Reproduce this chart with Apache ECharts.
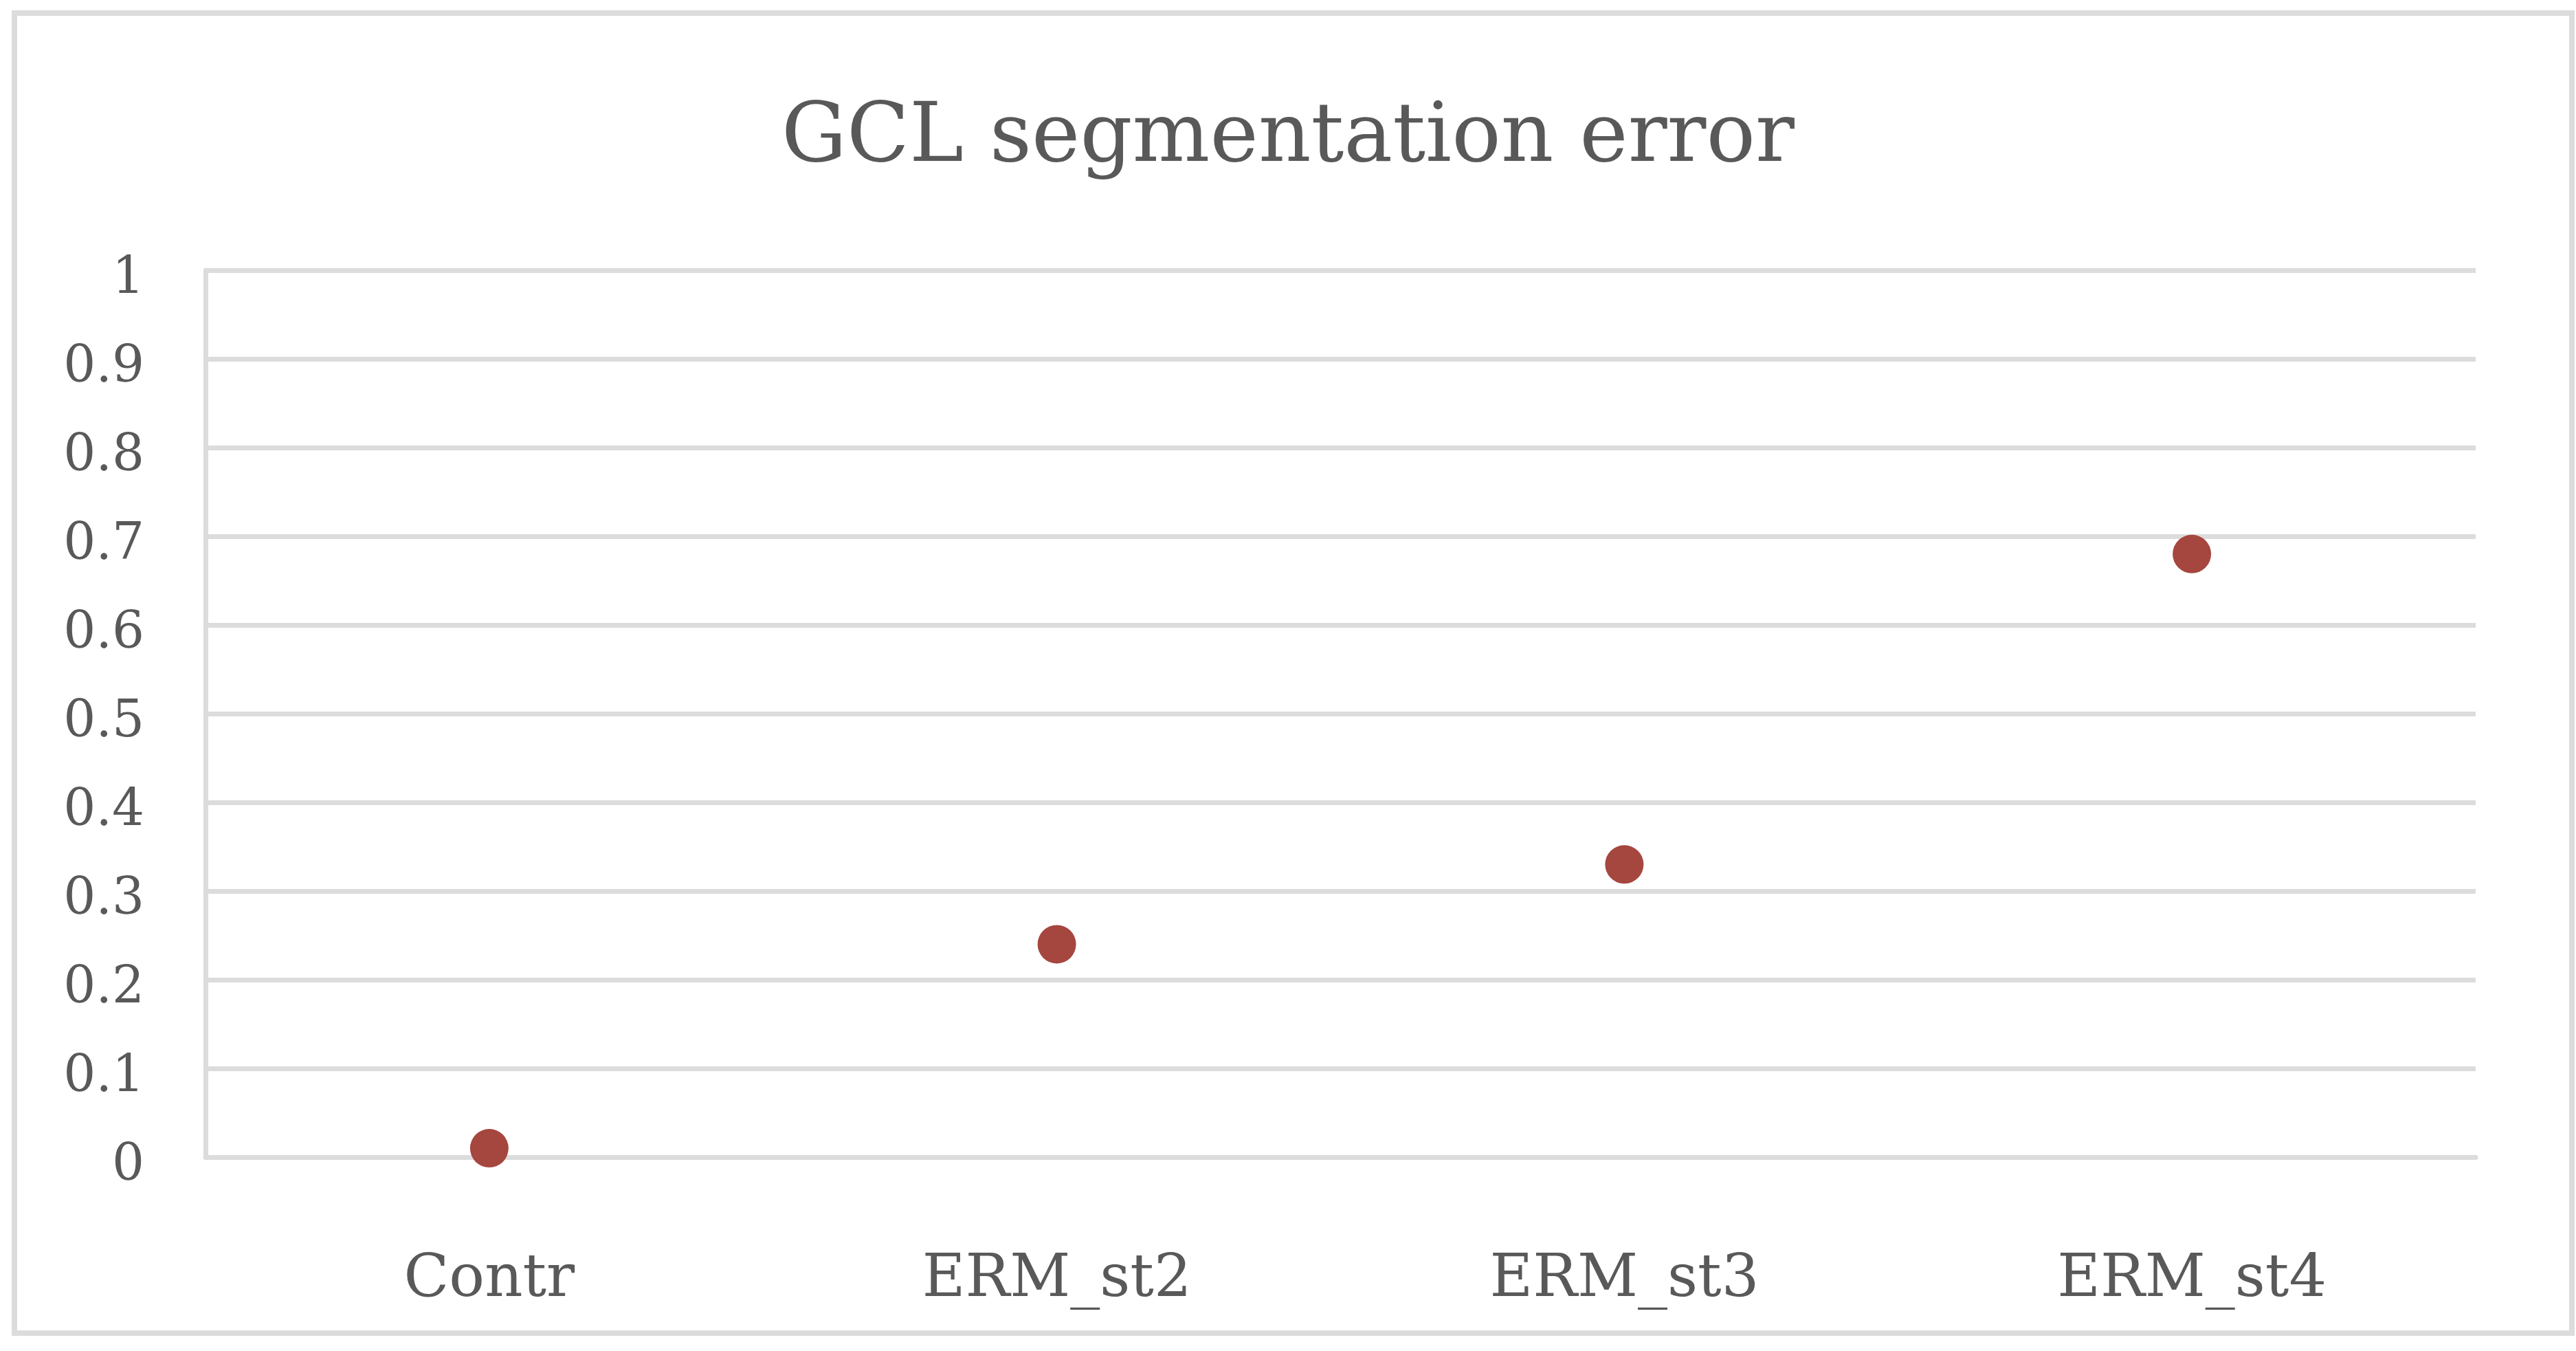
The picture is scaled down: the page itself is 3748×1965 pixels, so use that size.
<!DOCTYPE html>
<html>
<head>
<meta charset="utf-8">
<title>GCL segmentation error</title>
<script src="https://cdn.jsdelivr.net/npm/echarts@6/dist/echarts.min.js"></script>
<style>
  html, body { margin: 0; padding: 0; background: #fff; }
  #chart { width: 3748px; height: 1965px; }
</style>
</head>
<body>
<div id="chart"></div>
<script>
// data
var categories = ["Contr", "ERM_st2", "ERM_st3", "ERM_st4"];
var errorValues = [0.01, 0.24, 0.33, 0.68];
var yTicks = [0, 0.1, 0.2, 0.3, 0.4, 0.5, 0.6, 0.7, 0.8, 0.9, 1];

var textColor = "#595959";
var lineColor = "#DCDCDC";
var serif = "'DejaVu Serif', 'Liberation Serif', serif";

var chart = echarts.init(document.getElementById("chart"));

chart.setOption({
  backgroundColor: "#ffffff",
  animation: false,
  title: {
    text: "GCL segmentation error",
    left: "center",
    top: 139,
    textStyle: {
      fontFamily: serif,
      fontSize: 119,
      lineHeight: 119,
      fontWeight: "normal",
      color: textColor
    }
  },
  // outer chart border
  graphic: [{
    type: "rect",
    silent: true,
    shape: { x: 21, y: 19, width: 3721, height: 1920 },
    style: { fill: "none", stroke: lineColor, lineWidth: 8 }
  }],
  grid: {
    left: 299,
    right: 146,
    top: 393,
    bottom: 282
  },
  xAxis: {
    type: "category",
    data: categories,
    boundaryGap: true,
    axisLine: { show: true, lineStyle: { color: lineColor, width: 7 } },
    axisTick: { show: false },
    splitLine: { show: false },
    axisLabel: {
      margin: 137,
      fontFamily: serif,
      fontSize: 86,
      lineHeight: 86,
      color: textColor
    }
  },
  yAxis: {
    type: "value",
    min: yTicks[0],
    max: yTicks[yTicks.length - 1],
    interval: 0.1,
    axisLine: { show: true, lineStyle: { color: lineColor, width: 7 } },
    axisTick: { show: false },
    splitLine: { show: true, lineStyle: { color: lineColor, width: 7 } },
    axisLabel: {
      margin: 89,
      fontFamily: serif,
      fontSize: 74,
      color: textColor,
      formatter: function (v) {
        return "{v|" + String(Math.round(v * 10) / 10) + "}";
      },
      rich: {
        // labels sit a little below their gridline in the reference
        v: {
          fontFamily: serif,
          fontSize: 74,
          color: textColor,
          padding: [28, 0, 0, 0]
        }
      }
    }
  },
  series: [{
    name: "GCL segmentation error",
    type: "scatter",
    data: errorValues,
    symbol: "circle",
    symbolSize: 56,
    itemStyle: { color: "#A5463F", opacity: 1 }
  }]
});
</script>
</body>
</html>
